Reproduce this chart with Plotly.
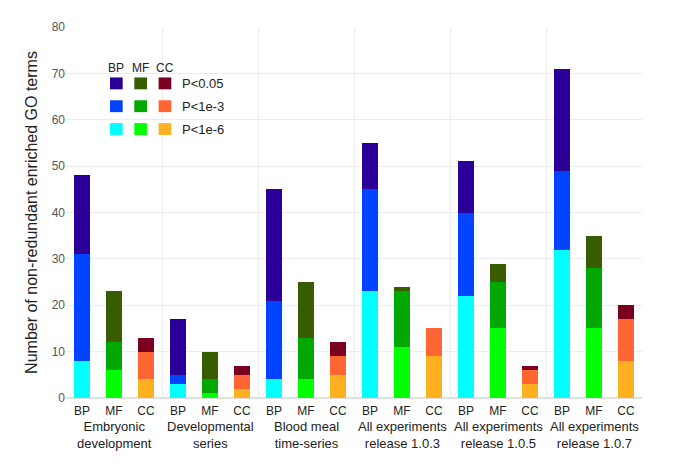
import plotly.graph_objects as go

groups = ["Embryonic<br>development", "Developmental<br>series", "Blood meal<br>time-series",
          "All experiments<br>release 1.0.3", "All experiments<br>release 1.0.5",
          "All experiments<br>release 1.0.7"]
ontologies = ["BP", "MF", "CC"]
levels = ["P<0.05", "P<1e-3", "P<1e-6"]

# cumulative counts of terms at each significance threshold
bp_p005 = [48, 17, 45, 55, 51, 71]
bp_p1e3 = [31, 5, 21, 45, 40, 49]
bp_p1e6 = [8, 3, 4, 23, 22, 32]
mf_p005 = [23, 10, 25, 24, 29, 35]
mf_p1e3 = [12, 4, 13, 23, 25, 28]
mf_p1e6 = [6, 1, 4, 11, 15, 15]
cc_p005 = [13, 7, 12, 15, 7, 20]
cc_p1e3 = [10, 5, 9, 15, 6, 17]
cc_p1e6 = [4, 2, 5, 9, 3, 8]

data = {
    "BP": [bp_p005, bp_p1e3, bp_p1e6],
    "MF": [mf_p005, mf_p1e3, mf_p1e6],
    "CC": [cc_p005, cc_p1e3, cc_p1e6],
}
colors = {
    "BP": ["#2a0096", "#0044ff", "#00ffff"],
    "MF": ["#3a5c00", "#00a800", "#00ff00"],
    "CC": ["#7a0022", "#ff6633", "#ffb020"],
}

FONT = "Arial, Liberation Sans, sans-serif"
fig = go.Figure()
n = len(groups)
for oi, ont in enumerate(ontologies):
    xs = [g * 3 + oi for g in range(n)]
    p005, p1e3, p1e6 = data[ont]
    segs = [
        p1e6,
        [a - b for a, b in zip(p1e3, p1e6)],
        [a - b for a, b in zip(p005, p1e3)],
    ]
    cols = [colors[ont][2], colors[ont][1], colors[ont][0]]
    names = [levels[2], levels[1], levels[0]]
    for seg, col, nm in zip(segs, cols, names):
        fig.add_trace(go.Bar(x=xs, y=seg, width=0.5, marker=dict(color=col, line=dict(width=0)),
                             name=f"{ont} {nm}", showlegend=False))

tickvals = [g * 3 + oi for g in range(n) for oi in range(3)]
ticktext = [ont for g in range(n) for ont in ontologies]

fig.update_layout(
    barmode="stack",
    width=685, height=470,
    margin=dict(l=58, r=51, t=19, b=80),
    plot_bgcolor="white", paper_bgcolor="white",
    font=dict(family=FONT, color="#333333", size=12),
    xaxis=dict(range=[-0.5, 3 * n - 0.5], tickmode="array", tickvals=tickvals, ticktext=ticktext,
               showgrid=False, zeroline=False, showline=False, ticks="", ticklabelstandoff=4,
               tickfont=dict(size=12, color="#222222"),
               minor=dict(tickmode="array", tickvals=[g * 3 - 0.5 for g in range(n + 1)],
                          showgrid=True, gridcolor="#ececec", gridwidth=1, ticks="")),
    yaxis=dict(range=[0, 80], dtick=10, showgrid=True, gridcolor="#ececec", zeroline=True,
               zerolinecolor="#e0e0e0", showline=False, ticks="",
               tickfont=dict(size=12, color="#555555"),
               title=dict(text="Number of non-redundant enriched GO terms",
                          font=dict(size=16, color="#222222"), standoff=10)),
    bargap=0,
)

# group labels under the axis
for g, lab in enumerate(groups):
    fig.add_annotation(x=g * 3 + 1, y=-0.05, xref="x", yref="paper", text=lab,
                       showarrow=False, xanchor="center", yanchor="top",
                       font=dict(size=13, color="#222222", family=FONT))

# custom legend grid (BP/MF/CC columns x significance rows)
leg_x0 = 0.0764
col_dx = 0.0422
row_y0 = 0.848
row_dy = 0.0615
sq_w = 0.022
sq_h = 0.032
for oi, ont in enumerate(ontologies):
    cx = leg_x0 + oi * col_dx
    fig.add_annotation(x=cx + sq_w / 2, y=row_y0 + 0.042, xref="paper", yref="paper", text=ont,
                       showarrow=False, xanchor="center", yanchor="middle",
                       font=dict(size=12, color="#222222", family=FONT))
    for li in range(3):
        cy = row_y0 - li * row_dy
        fig.add_shape(type="rect", xref="paper", yref="paper",
                      x0=cx, x1=cx + sq_w, y0=cy - sq_h / 2, y1=cy + sq_h / 2,
                      fillcolor=colors[ont][li], line=dict(width=0))
for li, lv in enumerate(levels):
    cy = row_y0 - li * row_dy
    fig.add_annotation(x=leg_x0 + 2 * col_dx + sq_w + 0.015, y=cy, xref="paper", yref="paper",
                       text=lv, showarrow=False, xanchor="left", yanchor="middle",
                       font=dict(size=13, color="#222222", family=FONT))

fig.write_html("out.html")
